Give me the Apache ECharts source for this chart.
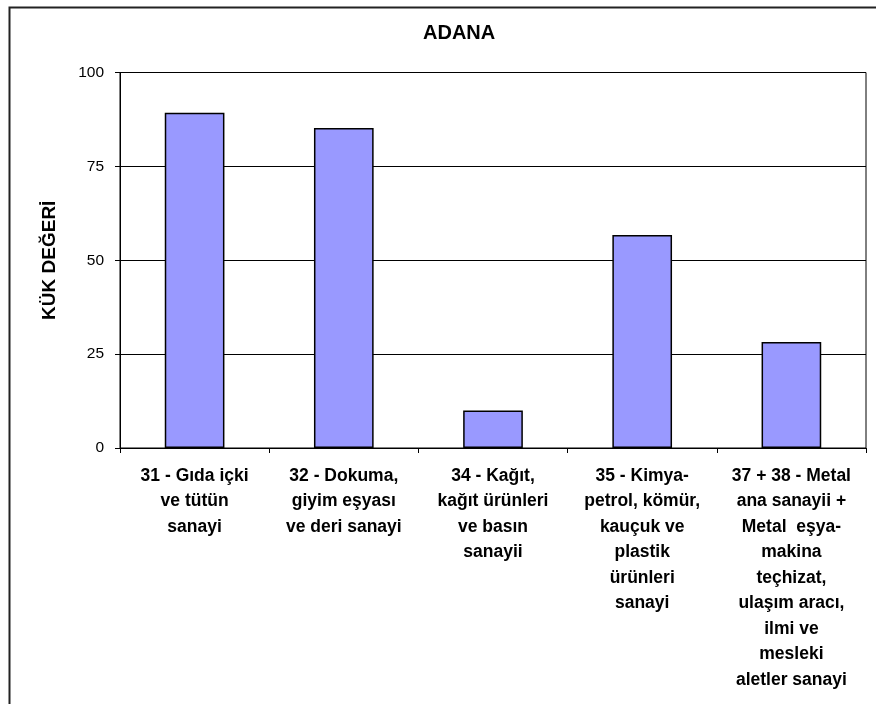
<!DOCTYPE html>
<html><head><meta charset="utf-8">
<script src="https://cdn.jsdelivr.net/npm/echarts@6/dist/echarts.min.js"></script>
<style>html,body{margin:0;padding:0;background:#fff;}#c{width:876px;height:704px;}</style>
</head><body><div id="c"></div>
<script>
const title = 'ADANA';
const yAxisName = 'KÜK DEĞERİ';
const categories = [
  '31 - Gıda içki\nve tütün\nsanayi',
  '32 - Dokuma,\ngiyim eşyası\nve deri sanayi',
  '34 - Kağıt,\nkağıt ürünleri\nve basın\nsanayii',
  '35 - Kimya-\npetrol, kömür,\nkauçuk ve\nplastik\nürünleri\nsanayi',
  '37 + 38 - Metal\nana sanayii +\nMetal  eşya-\nmakina\nteçhizat,\nulaşım aracı,\nilmi ve\nmesleki\naletler sanayi'
];
const values = [89.3, 85.2, 10.0, 56.7, 28.2];
const yTicks = [0, 25, 50, 75, 100];

const chart = echarts.init(document.getElementById('c'), null, {renderer: 'canvas'});
chart.setOption({
  animation: false,
  backgroundColor: '#fff',
  graphic: [{
    type: 'rect', left: 7, top: 5, z: 0,
    shape: {width: 900, height: 800},
    style: {fill: 'none', stroke: '#222', lineWidth: 2}
  }],
  title: {
    text: title, left: 418, top: 18,
    textStyle: {fontFamily: 'Liberation Sans, Arial', fontWeight: 'bold', fontSize: 20, color: '#000'}
  },
  grid: {left: 120, right: 10, top: 72.5, bottom: 256, show: true, borderColor: '#000', borderWidth: 1, backgroundColor: 'transparent'},
  xAxis: {
    type: 'category', data: categories,
    axisLine: {lineStyle: {color: '#000', width: 1}},
    axisTick: {show: true, alignWithLabel: false, length: 5, lineStyle: {color: '#000'}},
    axisLabel: {
      interval: 0, margin: 15, fontFamily: 'Liberation Sans, Arial', fontWeight: 'bold', fontSize: 17.5,
      color: '#000', lineHeight: 25.5, align: 'center'
    }
  },
  yAxis: {
    type: 'value', min: yTicks[0], max: yTicks[yTicks.length - 1], interval: 25,
    name: yAxisName, nameLocation: 'middle', nameGap: 61, nameRotate: 90,
    nameTextStyle: {fontFamily: 'Liberation Sans, Arial', fontWeight: 'bold', fontSize: 19, color: '#000'},
    axisLine: {show: true, lineStyle: {color: '#000', width: 1}},
    axisTick: {show: true, length: 5, lineStyle: {color: '#000'}},
    axisLabel: {fontFamily: 'Liberation Sans, Arial', fontSize: 15.5, color: '#000', margin: 16},
    splitLine: {show: true, lineStyle: {color: '#000', width: 1}}
  },
  series: [{
    type: 'bar', data: values, barWidth: '40%',
    itemStyle: {color: '#9999FF', borderColor: '#000', borderWidth: 1.5}
  }]
});
</script></body></html>
